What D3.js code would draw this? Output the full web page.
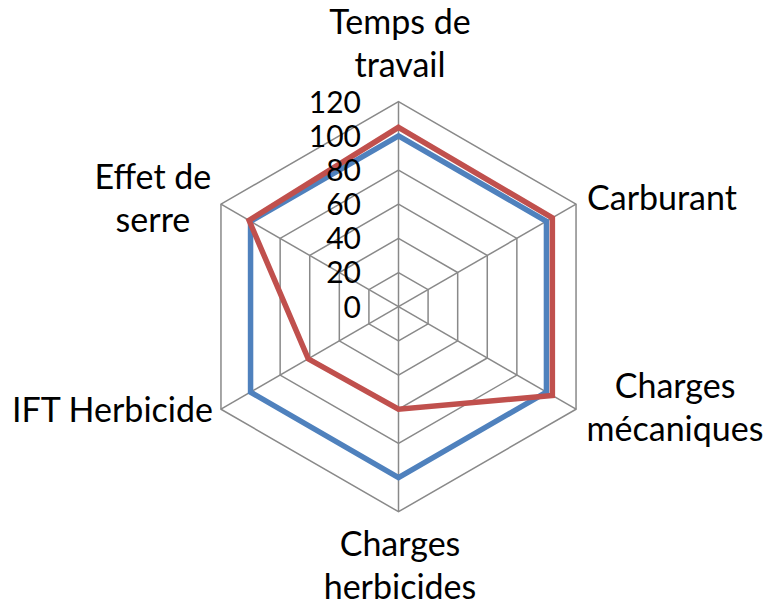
<!DOCTYPE html>
<html>
<head>
<meta charset="utf-8">
<script src="https://cdn.jsdelivr.net/npm/d3@7"></script>
<style>
  html, body { margin: 0; padding: 0; background: #fff; }
  svg text { font-family: Lato, "Open Sans", sans-serif; fill: #000; }
</style>
</head>
<body>
<svg id="chart" width="772" height="606"></svg>
<script>
const categories = [
  ["Temps de", "travail"],
  ["Carburant"],
  ["Charges", "mécaniques"],
  ["Charges", "herbicides"],
  ["IFT Herbicide"],
  ["Effet de", "serre"]
];
const seriesBlue = [100, 100, 100, 100, 100, 100];
const seriesRed  = [105, 104, 104, 60, 61, 101];
const tickValues = [0, 20, 40, 60, 80, 100, 120];

const svg = d3.select("#chart");
const cx = 398.5, cy = 306.7;
const r = d3.scaleLinear().domain([0, 120]).range([0, 205]);
const n = categories.length;
const ang = d3.scaleLinear().domain([0, n]).range([0, 2 * Math.PI]);
const pt = (i, v) => [cx + r(v) * Math.sin(ang(i)), cy - r(v) * Math.cos(ang(i))];

const g = svg.append("g");
// grid rings
tickValues.filter(t => t > 0).forEach(t => {
  g.append("path")
    .attr("d", d3.line()(d3.range(n).map(i => pt(i, t))) + "Z")
    .attr("fill", "none").attr("stroke", "#898989").attr("stroke-width", 1.5);
});
// spokes
d3.range(n).forEach(i => {
  const [x, y] = pt(i, 120);
  g.append("line").attr("x1", cx).attr("y1", cy).attr("x2", x).attr("y2", y)
    .attr("stroke", "#898989").attr("stroke-width", 1.5);
});

// series
const line = d3.lineRadial().angle((d, i) => ang(i)).radius(d => r(d)).curve(d3.curveLinearClosed);
const sg = svg.append("g").attr("transform", `translate(${cx},${cy})`);
[[seriesBlue, "#4F81BD"], [seriesRed, "#C0504D"]].forEach(([s, c]) => {
  sg.append("path").attr("d", line(s)).attr("fill", "none")
    .attr("stroke", c).attr("stroke-width", 5.5).attr("stroke-linejoin", "miter");
});

// tick labels
tickValues.forEach(t => {
  svg.append("text").attr("x", 361).attr("y", cy - r(t))
    .attr("dy", "0.36em").attr("text-anchor", "end")
    .attr("font-size", 30).text(t);
});

// category labels
const lh = 43;
const layout = [
  { anchor: "middle", dx: 1.5, dyLast: -25 },
  { anchor: "start", dx: 11, dyLast: 6 },
  { anchor: "middle", dx: 99, dyLast: 32 },
  { anchor: "middle", dx: 1.5, dyFirst: 44 },
  { anchor: "end", dx: -8, dyLast: 13 },
  { anchor: "middle", dx: -68, dyLast: 28 }
];
categories.forEach((lines, i) => {
  const [x, y] = pt(i, 120);
  const L = layout[i];
  let y0;
  if (L.dyFirst !== undefined) y0 = y + L.dyFirst;
  else y0 = y + L.dyLast - (lines.length - 1) * lh;
  const t = svg.append("text").attr("text-anchor", L.anchor).attr("font-size", 34);
  lines.forEach((s, k) => {
    t.append("tspan").attr("x", x + L.dx).attr("y", y0 + k * lh).text(s);
  });
});
</script>
</body>
</html>
